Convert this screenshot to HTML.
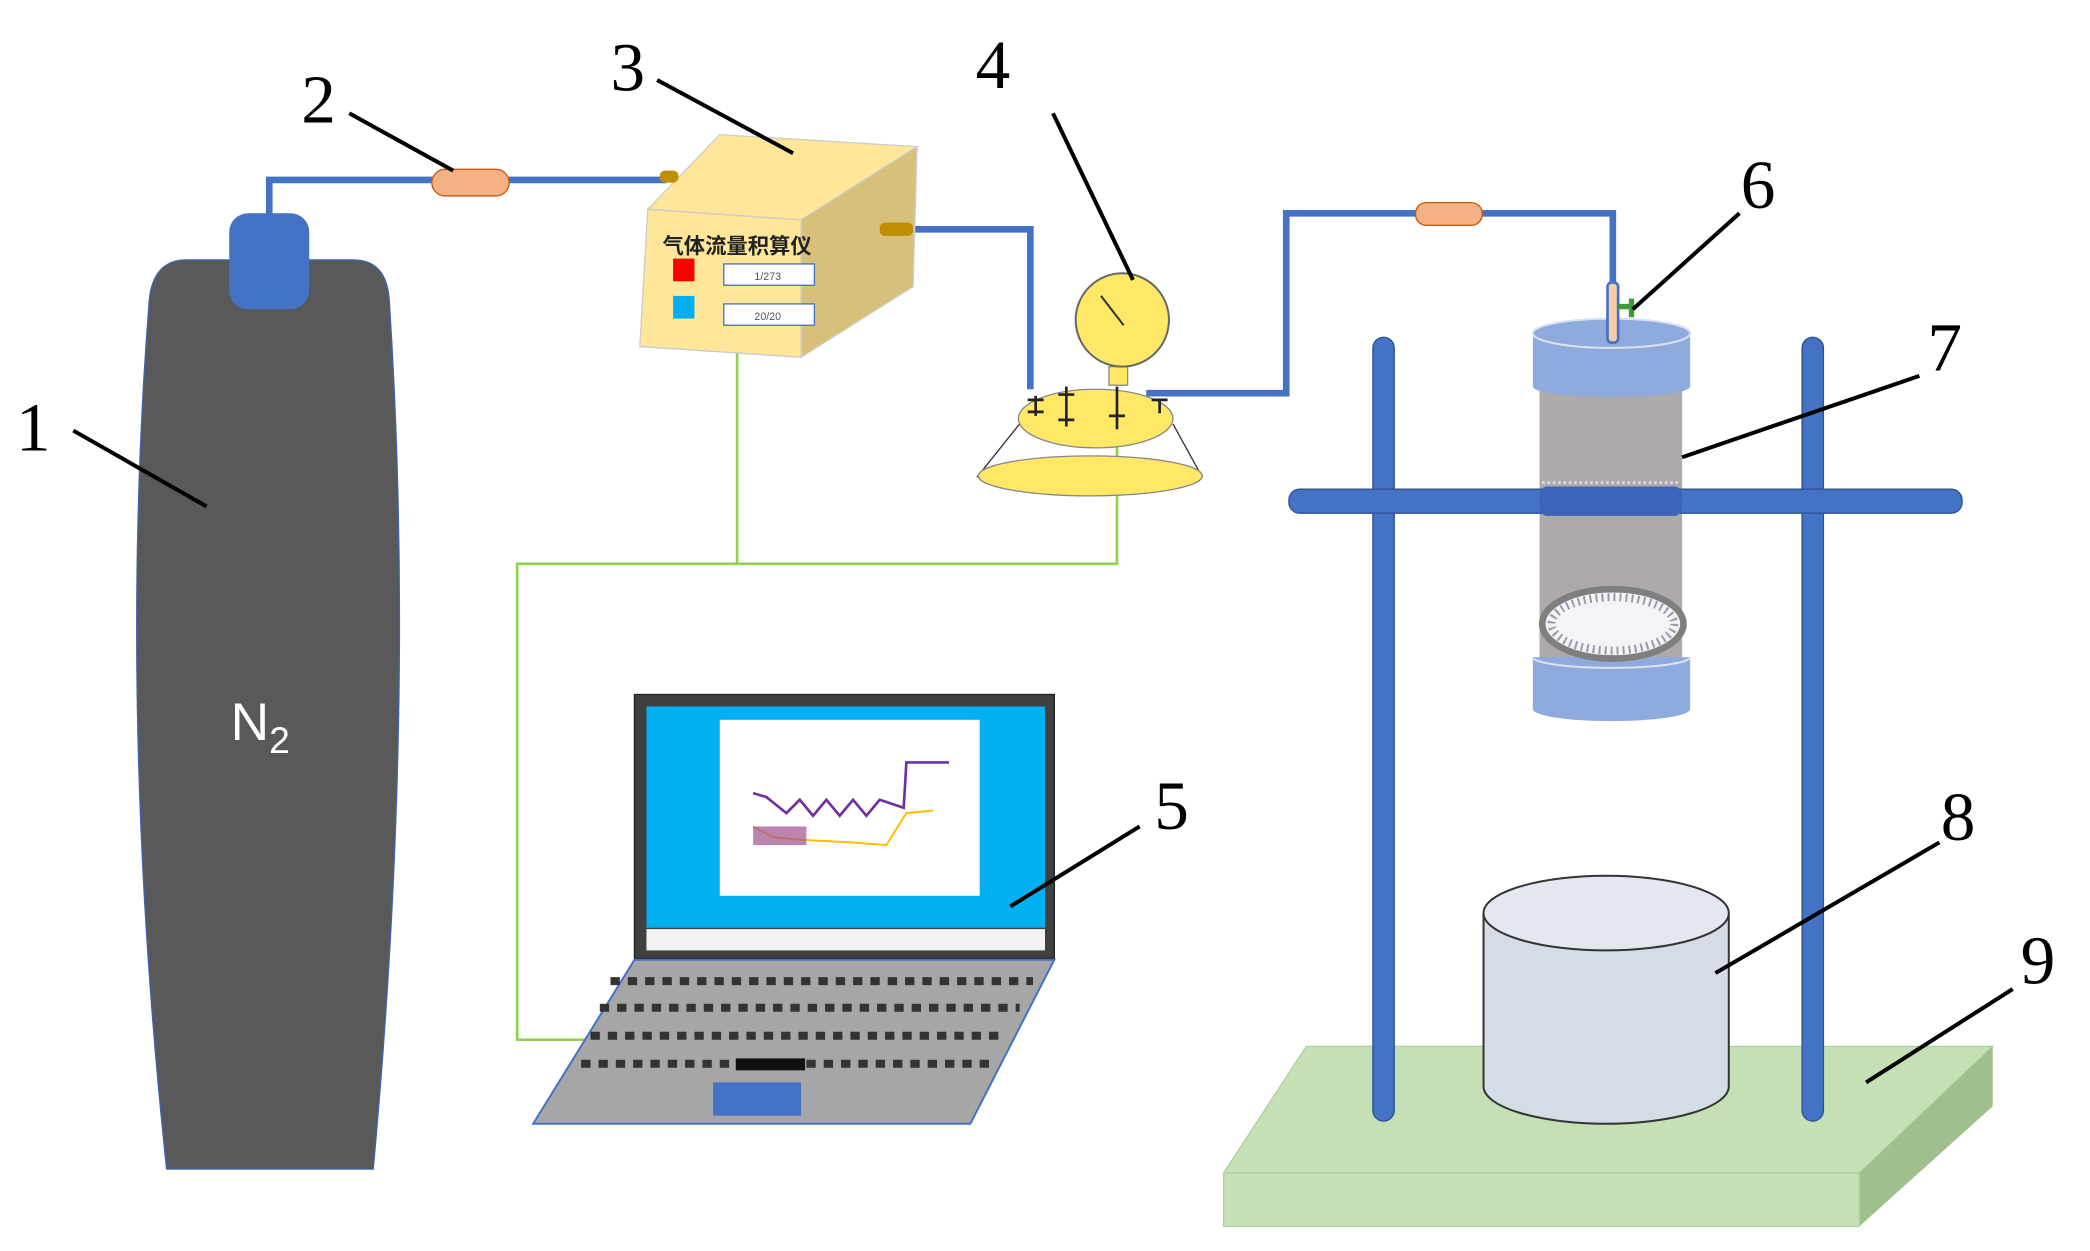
<!DOCTYPE html>
<html><head><meta charset="utf-8"><style>html,body{margin:0;padding:0;background:#fff}svg{display:block}</style></head>
<body>
<svg width="2090" height="1251" viewBox="0 0 1568 938.5" preserveAspectRatio="none" xmlns="http://www.w3.org/2000/svg">
<g font-family="Liberation Serif, serif" font-size="52" fill="#000">
<text x="12" y="338">1</text><text x="226" y="92">2</text><text x="458" y="68">3</text>
<text x="732" y="66">4</text><text x="866" y="622">5</text><text x="1306" y="156">6</text>
<text x="1446" y="278">7</text><text x="1456" y="630">8</text><text x="1516" y="738">9</text>
</g>
<!-- stand base -->
<polygon points="918,880 980,785 1495,785 1395,880" fill="#c5e0b4" stroke="#b0cfa0"/>
<polygon points="1395,880 1495,785 1495,830 1395,920" fill="#9fbf8c"/>
<rect x="918" y="880" width="477" height="40" fill="#c5e0b4" stroke="#b0cfa0"/>
<!-- beaker -->
<path d="M1113,685 L1113,815 A92,28 0 0 0 1297,815 L1297,685" fill="#d6dce5" stroke="#333" stroke-width="1.5"/>
<ellipse cx="1205" cy="685" rx="92" ry="28" fill="#e4e8ee" stroke="#333" stroke-width="1.5"/>
<!-- poles -->
<rect x="1030" y="253" width="16" height="588" rx="8" fill="#4472c4" stroke="#2f528f"/>
<rect x="1352" y="253" width="16" height="588" rx="8" fill="#4472c4" stroke="#2f528f"/>
<!-- column -->
<rect x="1155" y="290" width="107" height="210" fill="#aeaaaa"/>
<rect x="967" y="367" width="505" height="18" rx="8" fill="#4472c4" stroke="#2f528f"/>
<rect x="1155" y="365" width="107" height="22" rx="6" fill="#3a65b8"/>
<line x1="1157" y1="362" x2="1260" y2="362" stroke="#dde" stroke-width="2" stroke-dasharray="2,2"/>
<path d="M1150,250 L1150,290 A59,8 0 0 0 1268,290 L1268,250 Z" fill="#8faadc"/>
<ellipse cx="1209" cy="250" rx="59" ry="11" fill="#8faadc" stroke="#dbe3f2" stroke-width="1.5"/>
<path d="M1150,493 L1150,532 A59,9 0 0 0 1268,532 L1268,493 Z" fill="#8faadc"/>
<path d="M1150,493 A59,8 0 0 0 1268,493" fill="none" stroke="#dbe3f2" stroke-width="1.5"/>
<ellipse cx="1210" cy="468" rx="53" ry="26" fill="#f4f4f8" stroke="#7f7f7f" stroke-width="5"/>
<ellipse cx="1210" cy="468" rx="46" ry="20" fill="none" stroke="#99a" stroke-width="6" stroke-dasharray="1.5,3"/>
<!-- pipes -->
<g fill="none" stroke="#4472c4" stroke-width="5">
<polyline points="202,162 202,135 500,135"/>
<polyline points="685,172 773,172 773,292"/>
<polyline points="860,295 965,295 965,160 1210,160 1210,238"/>
</g>
<rect x="1206" y="212" width="8" height="45" rx="3" fill="#f8cbad" stroke="#4472c4" stroke-width="2"/>
<path d="M1214,230 h12 M1224,224 v14" stroke="#3a9a3a" stroke-width="4" fill="none"/>
<rect x="324" y="127" width="58" height="20" rx="10" fill="#f4b183" stroke="#c55a11"/>
<rect x="1062" y="152" width="50" height="17" rx="8" fill="#f4b183" stroke="#c55a11"/>
<!-- green wires -->
<g fill="none" stroke="#92d050" stroke-width="2">
<polyline points="553,265 553,423"/>
<polyline points="838,315 838,423 388,423 388,780 440,780"/>
</g>
<!-- cylinder 1 -->
<path d="M140,195 L265,195 Q290,195 292,225 Q312,530 280,877 L125,877 Q88,530 112,225 Q115,195 140,195 Z" fill="#595959" stroke="#3f64b0" stroke-width="1"/>
<rect x="172" y="160" width="60" height="72" rx="14" fill="#4472c4"/>
<text x="173" y="555" font-family="Liberation Sans, sans-serif" font-size="40" fill="#fff">N<tspan font-size="28" dy="10">2</tspan></text>
<!-- box 3 -->
<polygon points="486,157 540,101 688,110 601,165" fill="#ffe699" stroke="#ccc"/>
<polygon points="601,165 688,110 685,215 601,268" fill="#d6c07a" stroke="#ccc"/>
<polygon points="486,157 601,165 601,268 480,260" fill="#ffe699" stroke="#ccc"/>
<rect x="495" y="128" width="14" height="9" rx="4" fill="#bf8f00"/>
<rect x="660" y="167" width="25" height="10" rx="4" fill="#bf8f00"/>
<text x="497" y="190" font-family="Liberation Sans, Noto Sans CJK SC, sans-serif" font-size="16" font-weight="bold" fill="#222">气体流量积算仪</text>
<rect x="505" y="194" width="16" height="17" fill="#ff0000"/>
<rect x="505" y="222" width="16" height="17" fill="#00b0f0"/>
<rect x="543" y="198" width="68" height="16" fill="#fff" stroke="#4472c4"/>
<rect x="543" y="228" width="68" height="16" fill="#fff" stroke="#4472c4"/>
<text x="566" y="210" font-size="8" fill="#555" font-family="Liberation Sans, sans-serif">1/273</text>
<text x="566" y="240" font-size="8" fill="#555" font-family="Liberation Sans, sans-serif">20/20</text>
<!-- gauge 4 -->
<line x1="733" y1="358" x2="765" y2="318" stroke="#333"/>
<line x1="902" y1="358" x2="880" y2="318" stroke="#333"/>
<ellipse cx="818" cy="357" rx="84" ry="15" fill="#ffe866" stroke="#888"/>
<ellipse cx="822" cy="314" rx="58" ry="22" fill="#ffe866" stroke="#888"/>
<g stroke="#222" stroke-width="2" fill="none">
<path d="M777,297 v15 M771,300 h12 M771,309 h12"/><path d="M800,290 v30 M794,296 h12 M794,315 h12"/>
<path d="M838,290 v32 M832,312 h12"/><path d="M870,300 v10 M864,300 h12"/>
</g>
<rect x="832" y="275" width="14" height="14" fill="#ffe866" stroke="#888"/>
<circle cx="842" cy="240" r="35" fill="#ffe866" stroke="#666" stroke-width="1.5"/>
<line x1="826" y1="222" x2="843" y2="244" stroke="#333" stroke-width="1.5"/>
<!-- laptop -->
<rect x="476" y="521" width="315" height="198" fill="#404040" stroke="#222"/>
<rect x="485" y="530" width="299" height="166" fill="#00b0f0"/>
<rect x="485" y="697" width="299" height="16" fill="#f2f2f2"/>
<rect x="540" y="540" width="195" height="132" fill="#fff"/>
<polyline points="565,595 575,598 590,610 600,600 610,612 620,600 630,612 640,600 650,612 660,600 678,606 680,572 712,572" fill="none" stroke="#7030a0" stroke-width="2"/>
<polyline points="565,620 580,628 600,630 640,632 665,634 680,610 700,608" fill="none" stroke="#ffc000" stroke-width="1.5"/>
<rect x="565" y="620" width="40" height="14" fill="#a05090" opacity="0.7"/>
<polygon points="476,720 791,720 728,843 400,843" fill="#a6a6a6" stroke="#4472c4" stroke-width="1.5"/>
<g stroke="#333" stroke-width="6" stroke-dasharray="7,6">
<line x1="458" y1="736" x2="775" y2="736"/><line x1="450" y1="756" x2="765" y2="756"/>
<line x1="443" y1="777" x2="755" y2="777"/><line x1="436" y1="798" x2="745" y2="798"/>
</g>
<rect x="552" y="794" width="52" height="9" fill="#111"/>
<rect x="535" y="812" width="66" height="25" fill="#4472c4"/>
<!-- leader lines -->
<g stroke="#000" stroke-width="3" fill="none">
<line x1="55" y1="323" x2="155" y2="380"/><line x1="262" y1="85" x2="340" y2="128"/>
<line x1="493" y1="60" x2="595" y2="115"/><line x1="790" y1="85" x2="850" y2="210"/>
<line x1="855" y1="620" x2="758" y2="680"/><line x1="1305" y1="160" x2="1225" y2="232"/>
<line x1="1440" y1="282" x2="1262" y2="343"/><line x1="1455" y1="632" x2="1287" y2="730"/>
<line x1="1510" y1="742" x2="1400" y2="812"/>
</g>
</svg>
</body></html>
